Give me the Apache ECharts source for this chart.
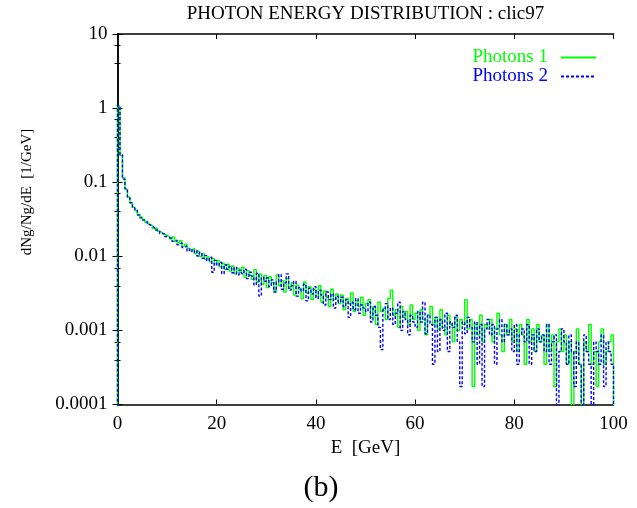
<!DOCTYPE html>
<html>
<head>
<meta charset="utf-8">
<script src="https://cdn.jsdelivr.net/npm/echarts@6/dist/echarts.min.js"></script>
<style>
html,body{margin:0;padding:0;background:#fff;}
#chart{width:637px;height:508px;}
</style>
</head>
<body>
<div id="chart"></div>
<script>
// ---- data (dNg/Ng/dE per 0.5 GeV bin, from E = 0 to 100 GeV) ----
const titleText = 'PHOTON ENERGY DISTRIBUTION : clic97';
const seriesNames = ['Photons 1', 'Photons 2'];
const xTickLabels = ['0', '20', '40', '60', '80', '100'];
const yTickLabels = ['0.0001', '0.001', '0.01', '0.1', '1', '10'];
const binWidth = 0.5; // GeV

const photons1 = [
  1.05, 0.23, 0.115, 0.08, 0.063, 0.052, 0.046, 0.041, 0.037, 0.034,
  0.0315, 0.0288, 0.0272, 0.0262, 0.0236, 0.0241, 0.0218, 0.0209, 0.0197, 0.0192,
  0.0186, 0.0171, 0.0182, 0.0158, 0.0149, 0.0163, 0.0137, 0.0146, 0.0129, 0.0121,
  0.0128, 0.0108, 0.0117, 0.0099, 0.0108, 0.0091, 0.0098, 0.0084, 0.0093, 0.0079,
  0.0087, 0.0072, 0.0081, 0.0066, 0.0078, 0.0063, 0.0074, 0.0058, 0.0069, 0.0061,
  0.0071, 0.0052, 0.0064, 0.0056, 0.0049, 0.0066, 0.0045, 0.0058, 0.0042, 0.0055,
  0.0038, 0.0053, 0.0044, 0.0034, 0.0056, 0.0040, 0.0047, 0.0033, 0.0050, 0.0037,
  0.0044, 0.0030, 0.0041, 0.0036, 0.0027, 0.0045, 0.0032, 0.0039, 0.0026, 0.0036,
  0.0029, 0.0040, 0.0024, 0.0034, 0.0028, 0.0021, 0.0036, 0.0026, 0.0031, 0.0023,
  0.0030, 0.0019, 0.0027, 0.0023, 0.0032, 0.0018, 0.0025, 0.0021, 0.0028, 0.0016,
  0.0023, 0.0026, 0.0015, 0.0021, 0.0012, 0.0024, 0.0018, 0.0020, 0.0014, 0.0027,
  0.0035, 0.0016, 0.0019, 0.0011, 0.0021, 0.0015, 0.0018, 0.0012, 0.0022, 0.0014,
  0.0017, 0.0010, 0.0019, 0.0014, 0.00087, 0.0016, 0.0021, 0.0012, 0.0015, 0.00105,
  0.0019, 0.0011, 0.00087, 0.0016, 0.0012, 0.0007, 0.0015, 0.0010, 0.0014, 0.0012,
  0.0026, 0.00105, 0.0014, 0.000175, 0.0012, 0.00087, 0.0016, 0.0007, 0.0012, 0.00105,
  0.0014, 0.0007, 0.00105, 0.0017, 0.00087, 0.00052, 0.0012, 0.00087, 0.0014, 0.0007,
  0.00105, 0.00052, 0.0012, 0.00087, 0.00035, 0.0014, 0.0007, 0.00105, 0.00052, 0.0012,
  0.0007, 0.00087, 0.00035, 0.0012, 0.00052, 0.00087, 0.000175, 0.0007, 0.00105, 0.00052,
  0.00087, 0.00035, 0.0007, 0, 0.00052, 0.00105, 0.00035, 0, 0.0007, 0.00052,
  0.0012, 0.00035, 0.00052, 0.000175, 0.0007, 0.00105, 0.00035, 0.00052, 0.0007, 0.00087
];

const photons2 = [
  1.08, 0.235, 0.11, 0.082, 0.062, 0.053, 0.045, 0.042, 0.036, 0.033,
  0.0308, 0.0294, 0.0268, 0.0255, 0.0244, 0.0226, 0.0224, 0.0203, 0.0201, 0.0185,
  0.0178, 0.0176, 0.0159, 0.0165, 0.0143, 0.0152, 0.0131, 0.0139, 0.0118, 0.0126,
  0.0113, 0.0121, 0.0101, 0.0112, 0.0094, 0.0102, 0.0087, 0.0097, 0.0061, 0.0088,
  0.0075, 0.0083, 0.0058, 0.0077, 0.0067, 0.0073, 0.0060, 0.0071, 0.0056, 0.0065,
  0.0058, 0.0067, 0.0050, 0.0061, 0.0054, 0.0041, 0.0059, 0.0029, 0.0052, 0.0046,
  0.0051, 0.0039, 0.0048, 0.0033, 0.0045, 0.0057, 0.0036, 0.0044, 0.0058, 0.0035,
  0.0040, 0.0046, 0.0029, 0.0038, 0.0034, 0.0042, 0.0025, 0.0037, 0.0031, 0.0039,
  0.0027, 0.0035, 0.0030, 0.0022, 0.0033, 0.0026, 0.0031, 0.0020, 0.0029, 0.0024,
  0.0028, 0.0021, 0.0026, 0.0015, 0.0024, 0.0019, 0.0027, 0.0017, 0.0022, 0.0020,
  0.0018, 0.0024, 0.0013, 0.0021, 0.0016, 0.0011, 0.00055, 0.0019, 0.0023, 0.0014,
  0.0020, 0.0012, 0.0017, 0.0024, 0.0010, 0.0018, 0.0014, 0.00087, 0.0016, 0.0013,
  0.0011, 0.0018, 0.0013, 0.0024, 0.0009, 0.0016, 0.0012, 0.00035, 0.0015, 0.00052,
  0.0014, 0.0010, 0.0017, 0.00052, 0.0013, 0.0011, 0.0016, 0.0007, 0.000175, 0.0013,
  0.0009, 0.0015, 0.0011, 0.0007, 0.0013, 0.00035, 0.0012, 0.000175, 0.00105, 0.0014,
  0.00087, 0.0012, 0.00035, 0.00105, 0.0014, 0.0007, 0.0012, 0.00087, 0.00105, 0.00052,
  0.0012, 0.00035, 0.00087, 0.00105, 0.0007, 0.0012, 0.00035, 0.00087, 0.00052, 0.00105,
  0.0007, 0.00087, 0.00052, 0.0012, 0.00035, 0.0007, 0.00087, 0, 0.00052, 0.00105,
  0.0007, 0.00035, 0.00087, 0.00052, 0.000175, 0.0007, 0.00035, 0, 0.00087, 0.00052,
  0.00035, 0, 0.0007, 0.00052, 0.00035, 0.00087, 0.000175, 0.0007, 0.00052, 0.00035
];

// ---- build histogram step data ----
const FLOOR = 1e-7; // empty bins: drawn below the axis floor (clipped)
const E_MAX = 100;
function toHist(vals) {
  const pts = [[0, FLOOR]];
  vals.forEach((v, i) => pts.push([i * binWidth, v > 0 ? v : FLOOR]));
  pts.push([E_MAX, FLOOR]);
  return pts;
}

const SERIF = '"Liberation Serif", "Times New Roman", serif';
const chart = echarts.init(document.getElementById('chart'), null, {renderer: 'canvas'});

const axisLineStyle = {show: true, lineStyle: {color: '#000', width: 1.5}};
function xAx(pos, showLabel) {
  return {
    type: 'value', position: pos, min: 0, max: 100, interval: 20,
    axisLine: axisLineStyle,
    axisTick: {show: true, inside: true, length: 5, lineStyle: {color: '#000', width: 1}},
    axisLabel: {
      show: showLabel, margin: 10, color: '#000', fontFamily: SERIF, fontSize: 19,
      formatter: v => xTickLabels[Math.round(v / 20)]
    },
    splitLine: {show: false},
    name: showLabel ? 'E  [GeV]' : '', nameLocation: 'middle', nameGap: 29,
    nameTextStyle: {color: '#000', fontFamily: SERIF, fontSize: 19}
  };
}
function yAx(pos, showLabel) {
  return {
    type: 'log', logBase: 10, position: pos, min: 0.0001, max: 10,
    axisLine: axisLineStyle,
    axisTick: {show: true, inside: true, length: 5, lineStyle: {color: '#000', width: 1}},
    minorTick: {show: true, splitNumber: 3, length: 3, lineStyle: {color: '#000', width: 1}},
    axisLabel: {
      show: showLabel, margin: 10, color: '#000', fontFamily: SERIF, fontSize: 19,
      formatter: v => yTickLabels[Math.round(Math.log10(v)) + 4]
    },
    splitLine: {show: false}
  };
}

const option = {
  animation: false,
  backgroundColor: '#fff',
  grid: {left: 117.5, right: 23.5, top: 34, bottom: 103.5, containLabel: false},
  xAxis: [xAx('bottom', true), xAx('top', false)],
  yAxis: [yAx('left', true), yAx('right', false)],
  legend: {
    orient: 'vertical', right: 35, top: 43, align: 'right',
    itemWidth: 35, itemHeight: 10, itemGap: 0,
    itemStyle: {opacity: 0},
    textStyle: {fontFamily: SERIF, fontSize: 19, lineHeight: 19, padding: [0, 8, 0, 0]},
    data: [
      {name: seriesNames[0], textStyle: {color: '#00ff00'}},
      {name: seriesNames[1], textStyle: {color: '#0000ff'}}
    ]
  },
  series: [
    {
      name: seriesNames[0], type: 'line', step: 'end', xAxisIndex: 0, yAxisIndex: 0,
      data: toHist(photons1), showSymbol: false, symbol: 'none', clip: true,
      lineStyle: {color: '#00ff00', width: 1.4}, itemStyle: {color: '#00ff00'}
    },
    {
      name: seriesNames[1], type: 'line', step: 'end', xAxisIndex: 0, yAxisIndex: 0,
      data: toHist(photons2), showSymbol: false, symbol: 'none', clip: true,
      lineStyle: {color: '#0000ff', width: 1.4, type: [3, 2]}, itemStyle: {color: '#0000ff'}
    }
  ],
  graphic: [
    {type: 'text', x: 365.5, y: 14, style: {text: titleText, fill: '#000', font: '19px ' + SERIF, align: 'center', verticalAlign: 'middle'}},
    {type: 'text', x: 27, y: 192, rotation: Math.PI / 2, style: {text: 'dNg/Ng/dE  [1/GeV]', fill: '#000', font: '15px ' + SERIF, align: 'center', verticalAlign: 'middle'}},
    {type: 'text', x: 321, y: 488, style: {text: '(b)', fill: '#000', font: '30px ' + SERIF, align: 'center', verticalAlign: 'middle'}}
  ]
};
chart.setOption(option);
</script>
</body>
</html>
